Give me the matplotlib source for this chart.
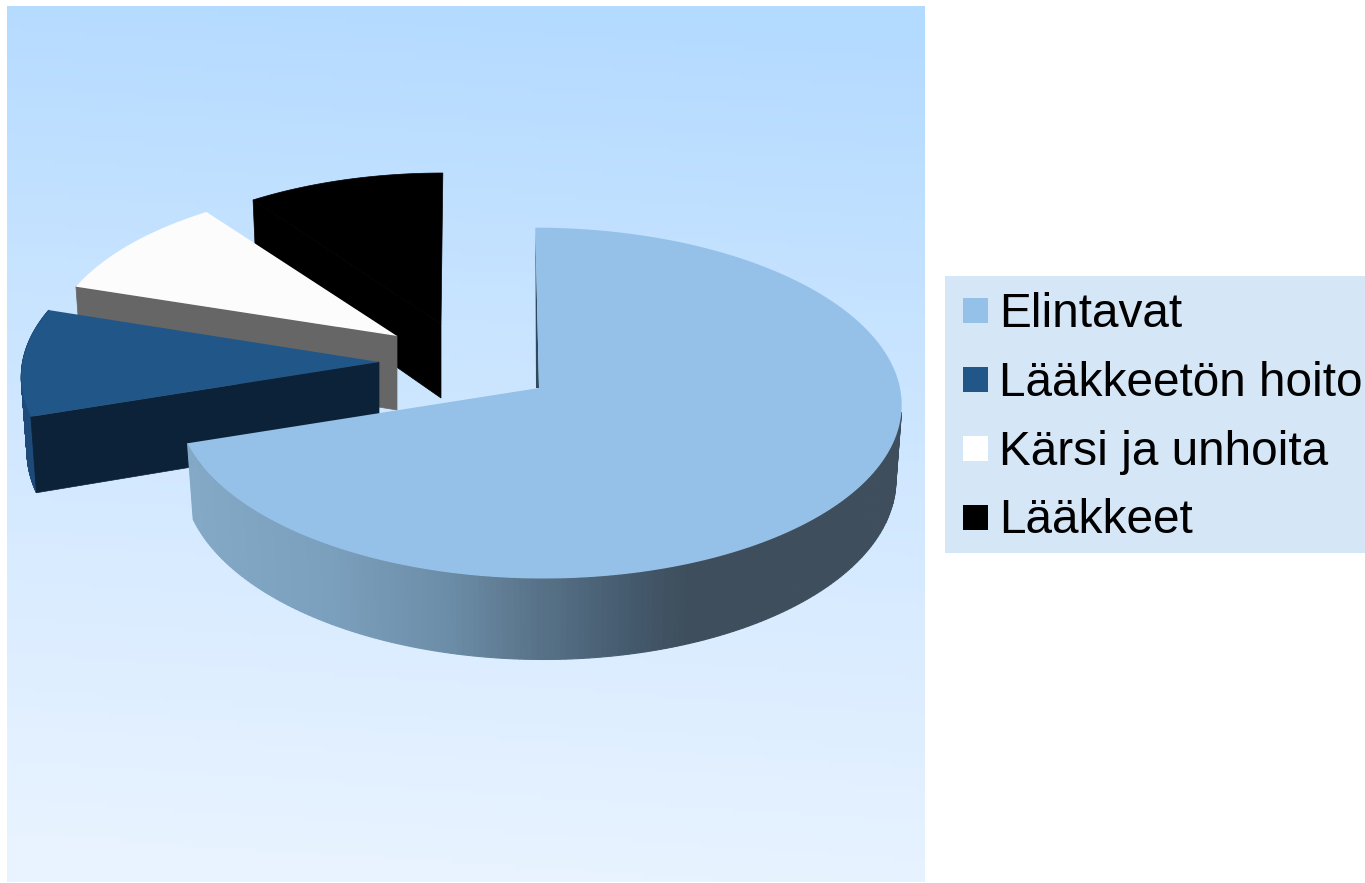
import matplotlib
matplotlib.use('Agg')
import matplotlib.pyplot as plt
import numpy as np
from matplotlib.colors import LinearSegmentedColormap, to_rgb
from matplotlib.patches import Rectangle

plt.rcParams['font.family'] = ['Liberation Sans', 'DejaVu Sans']

labels = ['Elintavat', 'Lääkkeetön hoito', 'Kärsi ja unhoita', 'Lääkkeet']
values = [70, 10, 10, 10]
colors = ['#95C1E8', '#215688', '#FCFCFC', '#000000']
cut_colors = ['#2F4A5E', '#0C2238', '#666666', '#000000']
wall_colors = ['#84A9C6', '#1D4A78', '#666666', '#000000']

# apex x, apex y, x scale, y scale, lean of the far side (pixels)
placement = [
    (539, 388, 1.00, 0.995, -4),
    (379, 362, 0.987, 0.985, 0),
    (397, 336, 0.96, 0.937, 0),
    (441, 324, 0.955, 0.937, 2),
]

RX = 361
RY = 175
PERSP = 0.086
DEPTH = 74
BOTTOM_SHRINK = 0.984


def project(theta, r, apex, z=0.0):
    ax0, ay0, fx, fy, lean = apex
    X = r * np.sin(np.radians(theta))
    Y = r * np.cos(np.radians(theta))
    s = 1.0 / (1.0 + PERSP * Y)
    shrink = 1.0 - (1.0 - BOTTOM_SHRINK) * z
    px = ax0 + (X * RX * fx * shrink + lean * Y) * s
    py = ay0 - Y * RY * fy * s + DEPTH * z * s
    return px, py


def top_outline(t0, t1, apex):
    th = np.linspace(t0, t1, 200)
    x, y = project(th, 1.0, apex)
    return np.r_[apex[0], x], np.r_[apex[1], y]


def draw_wall(ax, t0, t1, apex, color_at, zorder):
    th = np.linspace(t0, t1, 181)
    for a, b in zip(th[:-1], th[1:]):
        xa, ya = project(a, 1.0, apex)
        xb, yb = project(b, 1.0, apex)
        xc, yc = project(b, 1.0, apex, 1.0)
        xd, yd = project(a, 1.0, apex, 1.0)
        c = color_at(xa)
        # edge in the same colour hides the seams between the strips
        ax.fill([xa, xb, xc, xd], [ya, yb, yc, yd], fc=c, ec=c, lw=0.8, zorder=zorder)


def draw_cut(ax, theta, apex, color, zorder):
    xa, ya = project(theta, 0.0, apex)
    xb, yb = project(theta, 1.0, apex)
    xc, yc = project(theta, 1.0, apex, 1.0)
    xd, yd = project(theta, 0.0, apex, 1.0)
    ax.fill([xa, xb, xc, xd], [ya, yb, yc, yd], fc=color, ec=color, lw=0.5, zorder=zorder)


def main_wall_color(x):
    stops = [190, 330, 450, 540, 640, 690, 900]
    cols = ['#84A9C6', '#7BA0BD', '#6C8DA8', '#587389', '#43586B', '#3E4E5C', '#3E4E5C']
    rgb = np.array([to_rgb(c) for c in cols])
    return tuple(np.interp(x, stops, rgb[:, i]) for i in range(3))


fig = plt.figure(figsize=(13.65, 8.83), dpi=100)
ax = fig.add_axes([0, 0, 1, 1])

# background, slightly tilted vertical gradient
cmap = LinearSegmentedColormap.from_list('bg', ['#B3DAFF', '#C6E3FF', '#D8EBFF', '#E8F3FF'])
yy, xx = np.mgrid[0:1:200j, 0:1:200j]
ax.imshow(np.clip(yy - 0.07 * xx + 0.05, 0, 1), cmap=cmap, extent=(7, 925, 882, 6),
          aspect='auto', vmin=0, vmax=1, zorder=0)
ax.set_xlim(0, 1365)
ax.set_ylim(883, 0)
ax.axis('off')

edges = np.r_[0, np.cumsum(values)] * 3.6

# back to front: black, white, blue, then the big slice
# Lääkkeet
t0, t1 = edges[3], edges[4]
draw_cut(ax, t0, placement[3], cut_colors[3], 2)
x, y = top_outline(t0, t1, placement[3])
ax.fill(x, y, fc=colors[3], ec=colors[3], lw=0.5, zorder=2)

# Kärsi ja unhoita
t0, t1 = edges[2], edges[3]
draw_cut(ax, t0, placement[2], cut_colors[2], 3)
x, y = top_outline(t0, t1, placement[2])
ax.fill(x, y, color=colors[2], lw=0, zorder=3)

# Lääkkeetön hoito
t0, t1 = edges[1], edges[2]
draw_wall(ax, t0, t1, placement[1], lambda v: wall_colors[1], 4)
draw_cut(ax, t0, placement[1], cut_colors[1], 4)
x, y = top_outline(t0, t1, placement[1])
ax.fill(x, y, color=colors[1], lw=0, zorder=4)

# Elintavat, wall only from the right-hand extreme round to the cut
t0, t1 = edges[0], edges[1]
xa, ya = project(t0, 0.0, placement[0])
xb, yb = project(t0, 1.0, placement[0])
ax.fill([xa, xb, xa - 3], [ya, yb, ya], color=cut_colors[0], lw=0, zorder=5)
draw_wall(ax, 98, t1, placement[0], main_wall_color, 5)
x, y = top_outline(t0, t1, placement[0])
ax.fill(x, y, color=colors[0], lw=0, zorder=6)

# legend
ax.add_patch(Rectangle((945, 276), 420, 277, fc='#D5E6F7', ec='none', zorder=1))
for i, (lab, col) in enumerate(zip(labels, colors)):
    color = '#FFFFFF' if i == 2 else col
    ax.add_patch(Rectangle((963, 298 + 69 * i), 25, 25, fc=color, ec='none', zorder=2))
    ax.text(999, 327 + 68.8 * i, lab, fontsize=34.4, color='black', va='baseline',
            ha='left', zorder=3)

fig.savefig('out.png', dpi=100, facecolor='white')
